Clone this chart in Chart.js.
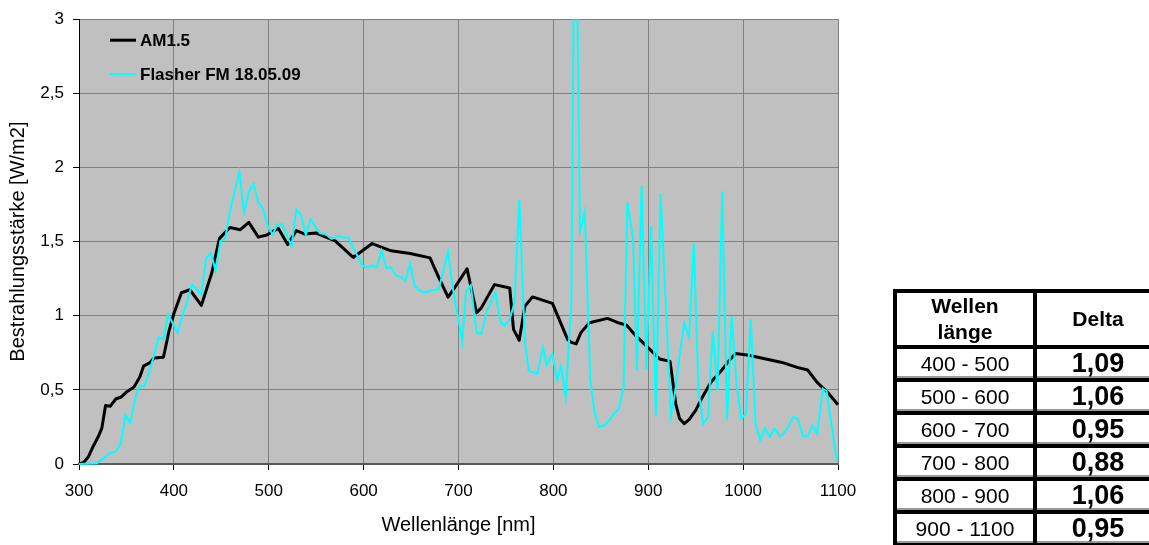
<!DOCTYPE html>
<html>
<head>
<meta charset="utf-8">
<script src="https://cdn.jsdelivr.net/npm/chart.js@4/dist/chart.umd.min.js"></script>
<style>
html,body{margin:0;padding:0;background:#fff;width:1149px;height:545px;overflow:hidden;font-family:"Liberation Sans",Arial,sans-serif;}
#c{position:absolute;left:0;top:0;}
#tbl{position:absolute;left:893px;top:289px;width:270px;border-collapse:collapse;table-layout:fixed;}
#tbl td,#tbl th{border:4px solid #000;text-align:center;vertical-align:middle;padding:0;color:#000;}
#tbl th{font-weight:bold;font-size:21px;height:50px;line-height:26px;}
#tbl td{height:29px;line-height:29px;box-shadow:inset 0 -2px 0 #9a9a9a;}
#tbl td.r{font-size:21px;font-weight:normal;}
#tbl td.d{font-size:27px;font-weight:bold;}
</style>
</head>
<body>
<canvas id="c" width="1149" height="545"></canvas>
<table id="tbl"><colgroup><col style="width:140px"><col></colgroup><thead><tr id="hdr"></tr></thead><tbody id="tb"></tbody></table>
<script>
// ---- data ----
const amWavelength = [300,305,310,315,320,324,328,333,339,344,350,358,364,368,375,379,389,395,400,408,417,429,440,448,459,470,479,489,498,510,520,529,538,550,559,570,589,609,629,649,670,679,689,696,709,719,724,738,754,758,764,770,778,799,815,819,824,829,838,857,870,877,887,899,912,923,929,933,938,943,950,957,966,977,985,992,1006,1024,1041,1057,1068,1078,1089,1100];
const amIrradiance = [0,0.01,0.05,0.12,0.18,0.24,0.395,0.39,0.44,0.45,0.485,0.52,0.585,0.66,0.685,0.715,0.72,0.9,1.015,1.155,1.175,1.07,1.29,1.52,1.595,1.58,1.63,1.53,1.545,1.59,1.48,1.574,1.551,1.558,1.533,1.505,1.393,1.487,1.438,1.42,1.39,1.26,1.125,1.19,1.317,1.02,1.053,1.21,1.187,0.908,0.835,1.065,1.127,1.083,0.84,0.82,0.81,0.886,0.953,0.982,0.949,0.937,0.864,0.79,0.708,0.692,0.406,0.306,0.272,0.299,0.362,0.451,0.551,0.629,0.696,0.745,0.734,0.708,0.685,0.652,0.634,0.551,0.484,0.4];

const flasherWavelength = [300,319,326,334,339,344,349,354,359,364,369,378,384,389,394,399,404,410,413,419,424,429,434,439,444,449,454,459,469,474,479,484,489,494,499,504,509,514,524,529,534,539,544,554,560,566,574,579,584,591,599,605,609,614,619,624,629,634,640,644,649,654,660,664,672,679,689,694,699,704,708,713,719,724,730,739,744,748,754,759,764,770,774,783,789,793,799,804,808,813,819,823,828,833,839,843,848,854,859,864,869,874,878,884,888,893,898,903,908,913,924,928,933,938,943,948,953,958,963,968,973,978,983,988,993,998,1003,1008,1013,1018,1023,1028,1033,1039,1044,1048,1053,1058,1063,1068,1073,1078,1084,1088,1099];
const flasherIrradiance = [0,0.005,0.038,0.078,0.083,0.138,0.328,0.277,0.44,0.529,0.524,0.708,0.853,0.842,1.009,0.946,0.886,1.02,1.076,1.21,1.177,1.143,1.388,1.422,1.304,1.505,1.518,1.7,1.97,1.695,1.835,1.888,1.765,1.722,1.605,1.549,1.614,1.616,1.47,1.72,1.677,1.545,1.65,1.556,1.549,1.518,1.538,1.527,1.527,1.433,1.337,1.328,1.339,1.326,1.438,1.321,1.326,1.272,1.259,1.232,1.351,1.199,1.165,1.154,1.172,1.177,1.429,1.187,1.009,0.826,1.165,1.205,0.886,0.875,1.031,1.161,0.964,0.931,0.976,1.087,1.783,0.83,0.629,0.607,0.786,0.668,0.741,0.567,0.663,0.451,1.098,4.5,1.567,1.7,0.562,0.362,0.25,0.261,0.295,0.34,0.373,0.518,1.763,1.522,0.629,1.88,0.641,1.605,0.328,1.824,0.328,0.473,0.73,0.953,0.853,1.489,0.496,0.272,0.317,0.897,0.496,1.839,0.299,0.998,0.54,0.306,0.339,0.976,0.277,0.161,0.239,0.183,0.239,0.183,0.217,0.254,0.321,0.299,0.188,0.188,0.261,0.201,0.507,0.491,0.015];

const seriesNames = ['AM1.5', 'Flasher FM 18.05.09'];
const xTickValues = [300,400,500,600,700,800,900,1000,1100];
const yTickValues = [0,0.5,1,1.5,2,2.5,3];
const xTitle = 'Wellenlänge [nm]';
const yTitle = 'Bestrahlungsstärke [W/m2]';

const tableHeader = ['Wellen<br>länge', 'Delta'];
const tableRanges = ['400 - 500','500 - 600','600 - 700','700 - 800','800 - 900','900 - 1100'];
const tableDeltas = ['1,09','1,06','0,95','0,88','1,06','0,95'];

// ---- table ----
document.getElementById('hdr').innerHTML = tableHeader.map(h => '<th>' + h + '</th>').join('');
document.getElementById('tb').innerHTML = tableRanges.map((r, i) =>
  '<tr><td class="r">' + r + '</td><td class="d">' + tableDeltas[i] + '</td></tr>').join('');

// ---- chart ----
const FONT = '"Liberation Sans", Arial, sans-serif';
const toPts = (xs, ys) => xs.map((x, i) => ({x: x, y: ys[i]}));

const plotBg = {
  id: 'plotBg',
  beforeDraw(chart) {
    const a = chart.chartArea, c = chart.ctx;
    c.save(); c.fillStyle = '#c0c0c0';
    c.fillRect(a.left, a.top, a.right - a.left, a.bottom - a.top);
    c.restore();
  }
};

const innerLegend = {
  id: 'innerLegend',
  afterDatasetsDraw(chart) {
    const c = chart.ctx, a = chart.chartArea;
    c.save();
    chart.data.datasets.forEach((ds, i) => {
      const y = a.top + 21 + i * 34;
      c.strokeStyle = ds.borderColor;
      c.lineWidth = ds.borderWidth;
      c.beginPath(); c.moveTo(a.left + 31, y); c.lineTo(a.left + 57, y); c.stroke();
      c.fillStyle = '#000';
      c.font = 'bold 17px ' + FONT;
      c.textBaseline = 'middle';
      c.fillText(ds.label, a.left + 61, y + 1);
    });
    c.restore();
  }
};

new Chart(document.getElementById('c'), {
  type: 'line',
  data: {
    datasets: [
      {label: seriesNames[0], data: toPts(amWavelength, amIrradiance), borderColor: '#000000', borderWidth: 3,
       pointRadius: 0, tension: 0, order: 1, borderJoinStyle: 'round', clip: {left: 2, right: 2, top: 0, bottom: 2}},
      {label: seriesNames[1], data: toPts(flasherWavelength, flasherIrradiance), borderColor: '#00ffff', borderWidth: 2,
       pointRadius: 0, tension: 0, order: 0, clip: {left: 2, right: 2, top: 0, bottom: 2}}
    ]
  },
  options: {
    responsive: false, animation: false, devicePixelRatio: 1,
    layout: {padding: {left: 0, right: 311, top: 16, bottom: 0}},
    plugins: {legend: {display: false}, tooltip: {enabled: false}},
    scales: {
      x: {
        type: 'linear', min: 300, max: 1100,
        afterBuildTicks: s => { s.ticks = xTickValues.map(v => ({value: v})); },
        grid: {color: '#808080', lineWidth: 1, tickColor: '#000', tickLength: 6},
        border: {color: '#595959', width: 2},
        ticks: {color: '#000', font: {family: FONT, size: 17}, padding: 11, maxRotation: 0, autoSkip: false,
                callback: v => String(v)},
        title: {display: true, text: xTitle, color: '#000', font: {family: FONT, size: 20}, padding: {top: 0, bottom: 8}},
        afterFit: s => { s.height = 81; }
      },
      y: {
        type: 'linear', min: 0, max: 3,
        afterBuildTicks: s => { s.ticks = yTickValues.map(v => ({value: v})); },
        grid: {color: '#808080', lineWidth: 1, tickColor: '#000', tickLength: 6},
        border: {color: '#000', width: 1},
        ticks: {color: '#000', font: {family: FONT, size: 17}, padding: 9,
                callback: v => String(v).replace('.', ',')},
        title: {display: true, text: yTitle, color: '#000', font: {family: FONT, size: 20}, padding: {top: 6, bottom: 0}},
        afterFit: s => { s.width = 79; }
      }
    }
  },
  plugins: [plotBg, innerLegend]
});
</script>
</body>
</html>
